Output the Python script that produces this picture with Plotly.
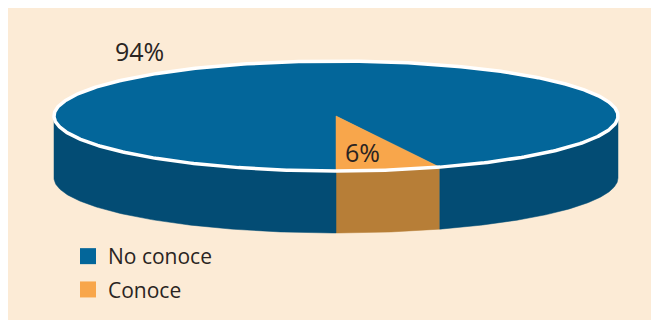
import numpy as np
import plotly.graph_objects as go

# ---- data ----
categories = ["No conoce", "Conoce"]
values = [94, 6]
top_colors = ["#03669A", "#F8A64B"]
side_colors = ["#034C74", "#B77E37"]
label_text = [f"{v}%" for v in values]

# ---- geometry (page pixel space; the page body adds an 8px offset) ----
W, H = 659, 320
OFF = 8
CX, CY = 336, 116
A, B = 282, 55
DEPTH = 62
BG = "#FCEBD6"
TXT = "#2A2422"


def pt(theta_deg):
    t = np.radians(theta_deg)
    return CX + A * np.sin(t), CY + B * np.cos(t)


def arc(t0, t1, n=120):
    ts = np.linspace(t0, t1, n)
    xs, ys = pt(ts)
    return list(xs), list(ys)


# slice angles: start at 6 o'clock, "Conoce" first, counterclockwise on screen
order = [1, 0]
total = sum(values)
spans = {}
start = 0.0
for i in order:
    ext = 360.0 * values[i] / total
    spans[i] = (start, start + ext)
    start += ext

fig = go.Figure()

# ---- side walls (visible front half) ----
for i in order:
    s0, s1 = spans[i]
    for lo, hi in [(-90, 90), (270, 450)]:
        a0, a1 = max(s0, lo), min(s1, hi)
        if a1 <= a0:
            continue
        xs, ys = arc(a0, a1)
        px = xs + xs[::-1] + [xs[0]]
        py = ys + [y + DEPTH for y in ys[::-1]] + [ys[0]]
        fig.add_trace(go.Scatter(x=px, y=py, fill="toself", mode="lines",
                                 line=dict(width=0.5, color=side_colors[i]),
                                 fillcolor=side_colors[i], showlegend=False,
                                 hoverinfo="skip"))

# ---- top face ----
for i in [0, 1]:
    s0, s1 = spans[i]
    xs, ys = arc(s0, s1, 400)
    px = [CX] + xs + [CX]
    py = [CY] + ys + [CY]
    fig.add_trace(go.Scatter(x=px, y=py, fill="toself", mode="lines",
                             line=dict(width=0.5, color=top_colors[i]),
                             fillcolor=top_colors[i], showlegend=False,
                             name=categories[i], hoverinfo="name"))

# white rim
xs, ys = arc(0, 360, 500)
fig.add_trace(go.Scatter(x=xs, y=ys, mode="lines",
                         line=dict(width=3.5, color="white"),
                         showlegend=False, hoverinfo="skip"))

# ---- legend entries ----
for i, g in zip([0, 1], ["a", "b"]):
    fig.add_trace(go.Scatter(x=[None], y=[None], mode="markers", name=categories[i],
                             legendgroup=g,
                             marker=dict(symbol="square", size=16, color=top_colors[i],
                                         line=dict(width=0))))

# ---- percentage labels ----
label_pos = {0: (139, 51), 1: (362, 152)}
for i in [0, 1]:
    fig.add_annotation(x=label_pos[i][0], y=label_pos[i][1], text=label_text[i],
                       showarrow=False, font=dict(size=25, color=TXT, family="Open Sans"),
                       xanchor="center", yanchor="middle")

fig.update_layout(
    width=W, height=H,
    margin=dict(l=0, r=0, t=0, b=0),
    paper_bgcolor=BG, plot_bgcolor=BG,
    xaxis=dict(range=[OFF, OFF + W], visible=False, fixedrange=True),
    yaxis=dict(range=[OFF + H, OFF], visible=False, fixedrange=True),
    font=dict(family="Open Sans", color=TXT),
    legend=dict(x=(68 - OFF) / W, y=(OFF + H - 236) / H, xanchor="left", yanchor="top",
                bgcolor="rgba(0,0,0,0)", font=dict(size=21, color=TXT),
                tracegroupgap=3, itemsizing="trace"),
)

fig.write_html("out.html")
